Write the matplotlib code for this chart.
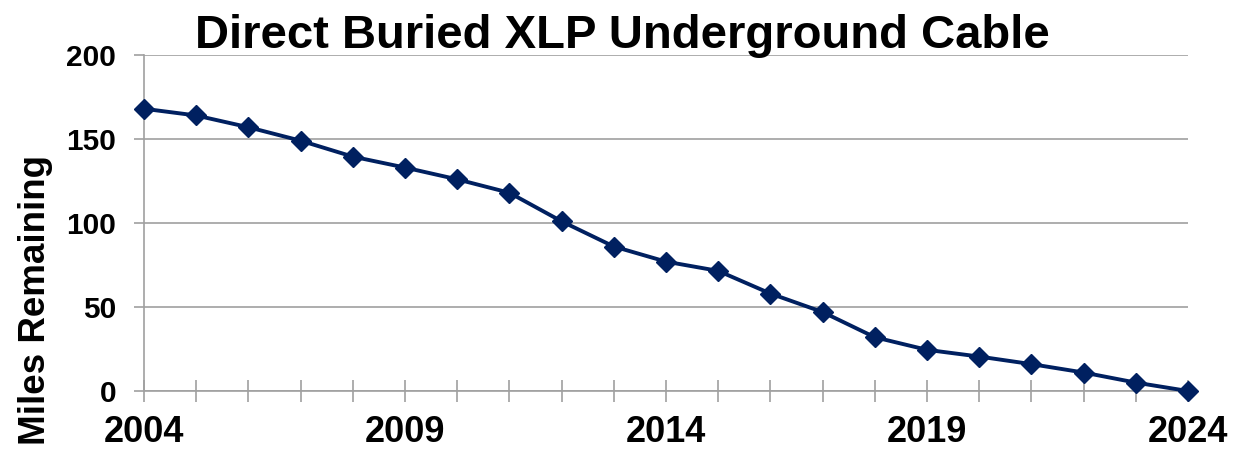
import matplotlib
matplotlib.use("Agg")
import matplotlib.pyplot as plt

years = list(range(2004, 2025))
miles = [168, 164, 157, 149, 139.5, 133, 126, 118, 101, 86, 77, 71.5, 58, 47, 32, 24.5, 20.5, 16, 11, 5, 0]
title = "Direct Buried XLP Underground Cable"
ylabel = "Miles Remaining"
xtick_labels = {2004: "2004", 2009: "2009", 2014: "2014", 2019: "2019", 2024: "2024"}

plt.rcParams['font.family'] = ['Liberation Sans', 'DejaVu Sans']
plt.rcParams['font.weight'] = 'bold'

W, H = 1253, 449
fig = plt.figure(figsize=(W / 100, H / 100), dpi=100)
ax = fig.add_axes([144 / W, 1 - 391 / H, (1188 - 144) / W, (391 - 55) / H])

navy = '#002060'
grid_c = '#a0a0a0'
ax.plot(years, miles, color=navy, lw=2.8, marker='D', ms=10.5, mfc=navy, mec=navy, mew=1, zorder=3, clip_on=False)

ax.set_xlim(2004, 2024)
ax.set_ylim(0, 200)
ax.set_yticks([0, 50, 100, 150, 200])
ax.set_xticks(years)
ax.set_xticklabels([xtick_labels.get(y, "") for y in years])

ax.yaxis.grid(True, color=grid_c, lw=1.2)
ax.set_axisbelow(True)
for s in ['top', 'right']:
    ax.spines[s].set_visible(False)
for s in ['left', 'bottom']:
    ax.spines[s].set_color(grid_c)
    ax.spines[s].set_linewidth(1.2)

ax.tick_params(axis='y', direction='out', length=7, width=1.2, color=grid_c, pad=13, labelsize=21.5)
ax.tick_params(axis='x', direction='inout', length=16, width=1.2, color=grid_c, pad=9, labelsize=26)
for lab in ax.get_xticklabels() + ax.get_yticklabels():
    lab.set_fontweight('bold')

fig.text(36 / W, 1 - 300 / H, ylabel, rotation=90, ha='center', va='center', fontsize=26.5, fontweight='bold')
fig.text(622 / W, 1 - 48 / H, title, ha='center', va='baseline', fontsize=34, fontweight='bold')

fig.savefig('out.png', dpi=100)
